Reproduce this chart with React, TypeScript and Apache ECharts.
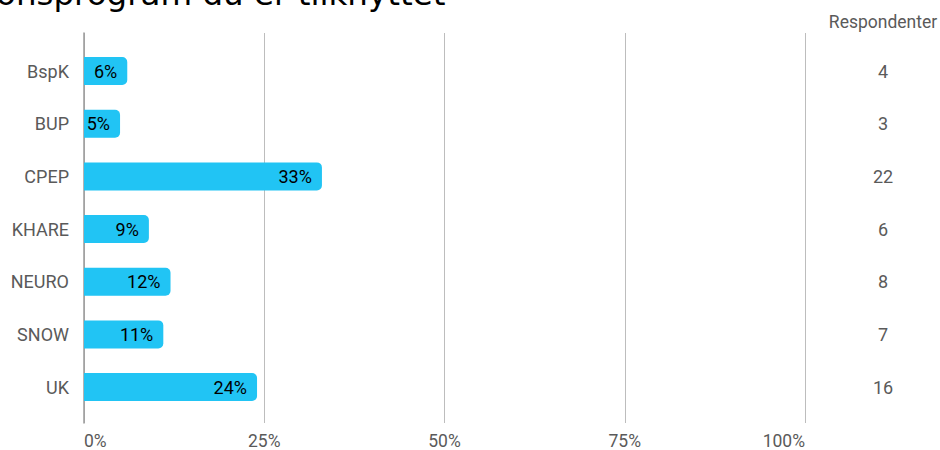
import React, { useEffect, useRef } from "react";
import * as echarts from "echarts";

const categories = ["BspK", "BUP", "CPEP", "KHARE", "NEURO", "SNOW", "UK"];
const percentValues = [6, 5, 33, 9, 12, 11, 24];
const respondents = [4, 3, 22, 6, 8, 7, 16];
const xTicks = [0, 25, 50, 75, 100];
const titleText = "onsprogram du er tilknyttet";
const columnHeader = "Respondenter";

export default function App() {
  const ref = useRef<HTMLDivElement>(null);
  useEffect(() => {
    if (!ref.current) return;
    const chart = echarts.init(ref.current, undefined, { renderer: "svg" });
    const font = "Roboto";
    const grey = "#5a5a5a";
    const left = 84;
    const width = 721;
    const option: any = {
      animation: false,
      backgroundColor: "#ffffff",
      textStyle: { fontFamily: font },
      grid: [
        { left, width, top: 33, height: 392, containLabel: false },
        { left, width, top: 44.7, height: 368.7, containLabel: false },
      ],
      xAxis: [
        {
          type: "value",
          gridIndex: 0,
          min: xTicks[0],
          max: xTicks[xTicks.length - 1],
          interval: xTicks[1] - xTicks[0],
          axisLine: { show: false },
          axisTick: { show: false },
          splitLine: { show: true, lineStyle: { color: "#bdbdbd", width: 1 } },
          axisLabel: {
            formatter: "{value}%",
            color: grey,
            fontSize: 17.5,
            fontFamily: font,
            margin: 9,
            alignMinLabel: "left",
            alignMaxLabel: "right",
          },
        },
        {
          type: "value",
          gridIndex: 1,
          min: xTicks[0],
          max: xTicks[xTicks.length - 1],
          show: false,
        },
      ],
      yAxis: [
        {
          type: "category",
          gridIndex: 0,
          data: categories,
          inverse: true,
          axisLine: { show: true, onZero: false, lineStyle: { color: "#9a9a9a", width: 1.5 } },
          axisTick: { show: false },
          axisLabel: { show: false },
          splitLine: { show: false },
        },
        {
          type: "category",
          gridIndex: 1,
          data: categories,
          inverse: true,
          axisLine: { show: false },
          axisTick: { show: false },
          axisLabel: { color: grey, fontSize: 18, fontFamily: font, margin: 15 },
        },
        {
          type: "category",
          gridIndex: 1,
          position: "right",
          data: respondents.map(String),
          inverse: true,
          axisLine: { show: false },
          axisTick: { show: false },
          axisLabel: { color: grey, fontSize: 18, fontFamily: font, margin: 78, align: "center" },
        },
      ],
      series: [
        {
          type: "bar",
          xAxisIndex: 1,
          yAxisIndex: 1,
          data: percentValues,
          barWidth: 28,
          itemStyle: { color: "#21c4f4", borderRadius: [0, 5, 5, 0] },
          label: {
            show: true,
            position: "insideRight",
            distance: 10,
            color: "#000000",
            fontSize: 18,
            fontFamily: font,
            formatter: "{c}%",
          },
        },
      ],
      graphic: [
        {
          type: "text",
          left: -4,
          top: -23,
          style: {
            text: titleText,
            fontSize: 32.5,
            fontFamily: "DejaVu Sans",
            fill: "#000000",
          },
        },
        {
          type: "text",
          x: 883,
          y: 22,
          style: {
            text: columnHeader,
            fontSize: 17.5,
            fontFamily: font,
            fill: grey,
            align: "center",
            verticalAlign: "middle",
          },
        },
      ],
    };
    chart.setOption(option);
    return () => chart.dispose();
  }, []);
  return (
    <div
      ref={ref}
      style={{ position: "fixed", left: 0, top: 0, width: 940, height: 450, background: "#fff" }}
    />
  );
}
